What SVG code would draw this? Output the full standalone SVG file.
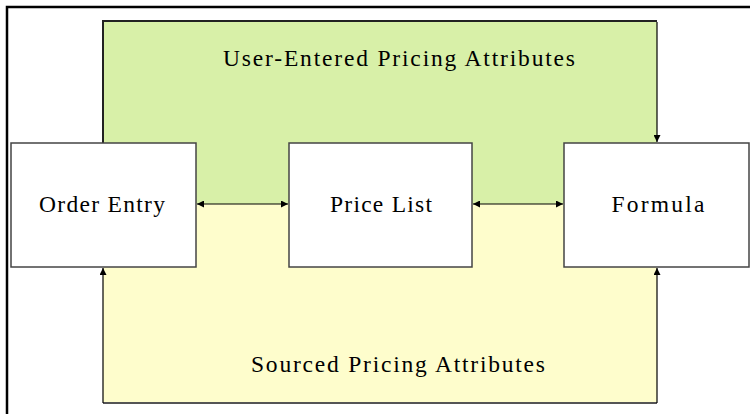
<svg xmlns="http://www.w3.org/2000/svg" width="750" height="414" viewBox="0 0 750 414">
  <defs>
    <marker id="arrow" viewBox="0 0 10 10" refX="10" refY="5" markerWidth="7" markerHeight="7" orient="auto-start-reverse" markerUnits="userSpaceOnUse">
      <path d="M0,0 L10,5 L0,10 z" fill="#000"/>
    </marker>
    <style>
      .frame { fill: none; stroke: #000; stroke-width: 2.5; }
      .node rect { fill: #fff; stroke: #444; stroke-width: 1.5; }
      .label { font-family: "Liberation Serif", "Times New Roman", serif; font-size: 23.5px; fill: #000; text-anchor: middle; }
      .title { font-family: "Liberation Serif", "Times New Roman", serif; font-size: 23.5px; fill: #000; text-anchor: middle; }
      .edge { fill: none; stroke: #000; stroke-width: 1.2; }
    </style>
  </defs>

  <rect width="750" height="414" fill="#fff"/>

  <!-- page frame: top and left rules -->
  <path class="frame" d="M7,414 V7 H750"/>

  <!-- attribute bands -->
  <g id="user-entered">
    <rect x="103" y="21" width="554" height="183" fill="#d8f0a8"/>
    <path d="M103,143 V21 H657" fill="none" stroke="#222" stroke-width="2"/>
    <text class="title" x="399" y="66" textLength="352" lengthAdjust="spacing">User-Entered Pricing Attributes</text>
  </g>
  <g id="sourced">
    <rect x="103" y="204" width="554" height="199" fill="#fefdcc"/>
    <path d="M103,403 H657" fill="none" stroke="#555" stroke-width="2"/>
    <text class="title" x="398" y="372" textLength="294" lengthAdjust="spacing">Sourced Pricing Attributes</text>
  </g>

  <!-- nodes -->
  <g id="order-entry" class="node">
    <rect x="11" y="143" width="185" height="124"/>
    <text class="label" x="102" y="212" textLength="126" lengthAdjust="spacing">Order Entry</text>
  </g>
  <g id="price-list" class="node">
    <rect x="289" y="143" width="183" height="124"/>
    <text class="label" x="381" y="212" textLength="102" lengthAdjust="spacing">Price List</text>
  </g>
  <g id="formula" class="node">
    <rect x="564" y="143" width="185" height="124"/>
    <text class="label" x="658" y="212" textLength="93" lengthAdjust="spacing">Formula</text>
  </g>

  <!-- connectors -->
  <g id="connectors">
    <line class="edge" x1="197" y1="204" x2="288" y2="204" marker-start="url(#arrow)" marker-end="url(#arrow)"/>
    <line class="edge" x1="473" y1="204" x2="563" y2="204" marker-start="url(#arrow)" marker-end="url(#arrow)"/>
    <line class="edge" x1="657" y1="22" x2="657" y2="142" stroke-width="1.5" marker-end="url(#arrow)"/>
    <line class="edge" x1="103" y1="403" x2="103" y2="268" stroke-width="2" marker-end="url(#arrow)"/>
    <line class="edge" x1="657" y1="403" x2="657" y2="268" stroke-width="1.5" marker-end="url(#arrow)"/>
  </g>
</svg>
